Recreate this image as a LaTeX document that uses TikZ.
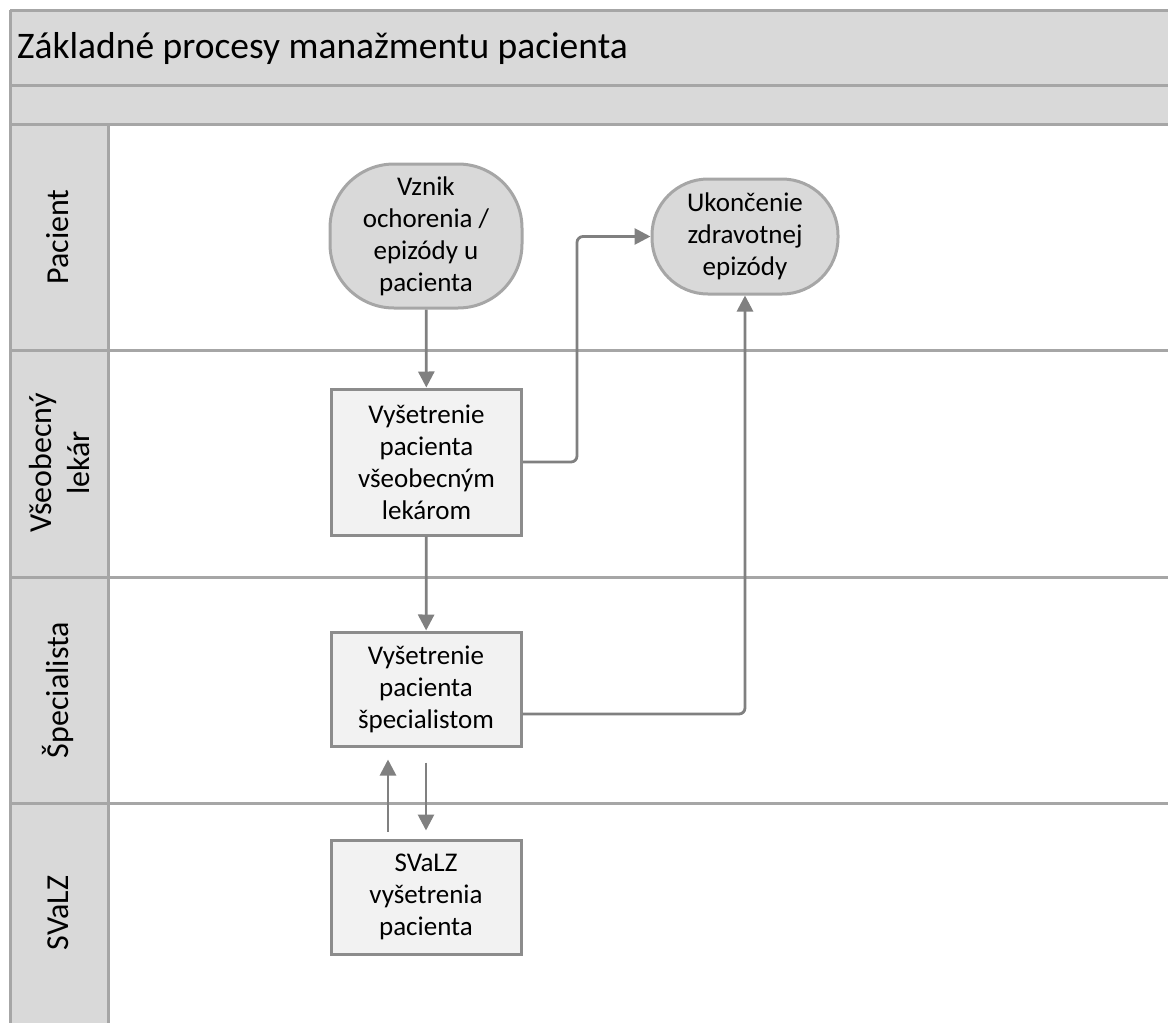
\documentclass[tikz,border=0pt]{standalone}
\usepackage{fontspec}
\setmainfont{Carlito}
\usetikzlibrary{arrows.meta}
\definecolor{hdrfill}{HTML}{D9D9D9}
\definecolor{laneline}{HTML}{A6A6A6}
\definecolor{boxfill}{HTML}{F2F2F2}
\definecolor{boxline}{HTML}{8C8C8C}
\definecolor{connline}{HTML}{808080}
\tikzset{
  laneborder/.style={draw=laneline, line width=3pt},
  lanelabel/.style={rotate=90, align=center, font=\fontsize{32}{38}\selectfont},
  terminal/.style={draw=laneline, fill=hdrfill, line width=3pt,
    align=center, inner sep=0pt, font=\fontsize{27}{32}\selectfont},
  taskbox/.style={draw=boxline, fill=boxfill, line width=3pt, align=center,
    inner sep=0pt, minimum width=190pt, font=\fontsize{27}{32}\selectfont},
  conn/.style={draw=connline, line width=2.8pt,
    -{Triangle[length=16pt,width=16pt]}, rounded corners=6pt},
}
\begin{document}
\begin{tikzpicture}[x=1pt, y=-1pt]
  \useasboundingbox (0,0) rectangle (1168,1023);
  \clip (0,0) rectangle (1168,1023);
  % header bands and lane label column
  \fill[hdrfill] (10,10) rectangle (1180,124);
  \fill[hdrfill] (10,124) rectangle (108,1040);
  \draw[laneborder] (10,10) -- (1180,10);
  \draw[laneborder] (10,85) -- (1180,85);
  \draw[laneborder] (10,124) -- (1180,124);
  \draw[laneborder] (10,350) -- (1180,350);
  \draw[laneborder] (10,577) -- (1180,577);
  \draw[laneborder] (10,803) -- (1180,803);
  \draw[laneborder] (10,10) -- (10,1040);
  \draw[laneborder] (108,124) -- (108,1040);
  % title
  \node[anchor=base west, inner sep=0pt, font=\fontsize{37.5}{42}\selectfont] (title) at (17,58) {Základné procesy manažmentu pacienta};
  % lane labels
  \node[lanelabel] (lpac) at (58,237) {Pacient};
  \node[lanelabel] (lvl) at (60,463) {Všeobecný\\lekár};
  \node[lanelabel] (lspec) at (58,690) {Špecialista};
  \node[lanelabel] (lsvalz) at (58,913) {SVaLZ};
  % process nodes
  \node[terminal, rounded corners=64pt, minimum width=192pt, minimum height=144pt] (start) at (426,236)
    {Vznik\\ochorenia /\\epizódy u\\pacienta};
  \node[terminal, rounded corners=56pt, minimum width=186pt, minimum height=115pt] (end) at (745,236.5)
    {Ukončenie\\zdravotnej\\epizódy};
  \node[taskbox, minimum height=146pt] (vl) at (426.5,462)
    {Vyšetrenie\\pacienta\\všeobecným\\lekárom};
  \node[taskbox, minimum height=114pt] (spec) at (426,689)
    {Vyšetrenie\\pacienta\\špecialistom};
  \node[taskbox, minimum height=114pt] (svalz) at (426,897)
    {SVaLZ\\vyšetrenia\\pacienta};
  % connectors
  \draw[conn] (start) -- (vl);
  \draw[conn] (vl.east) -- ++(54,0) |- (end.west);
  \draw[conn] (vl) -- (spec);
  \draw[conn] ([yshift=-25pt]spec.east) -| (end.south);
  \draw[conn, shorten <=7pt, shorten >=12pt] ([xshift=-38pt]svalz.north) -- ([xshift=-38pt]spec.south);
  \draw[conn, shorten <=15pt, shorten >=8pt] (spec.south) -- (svalz.north);
\end{tikzpicture}
\end{document}
